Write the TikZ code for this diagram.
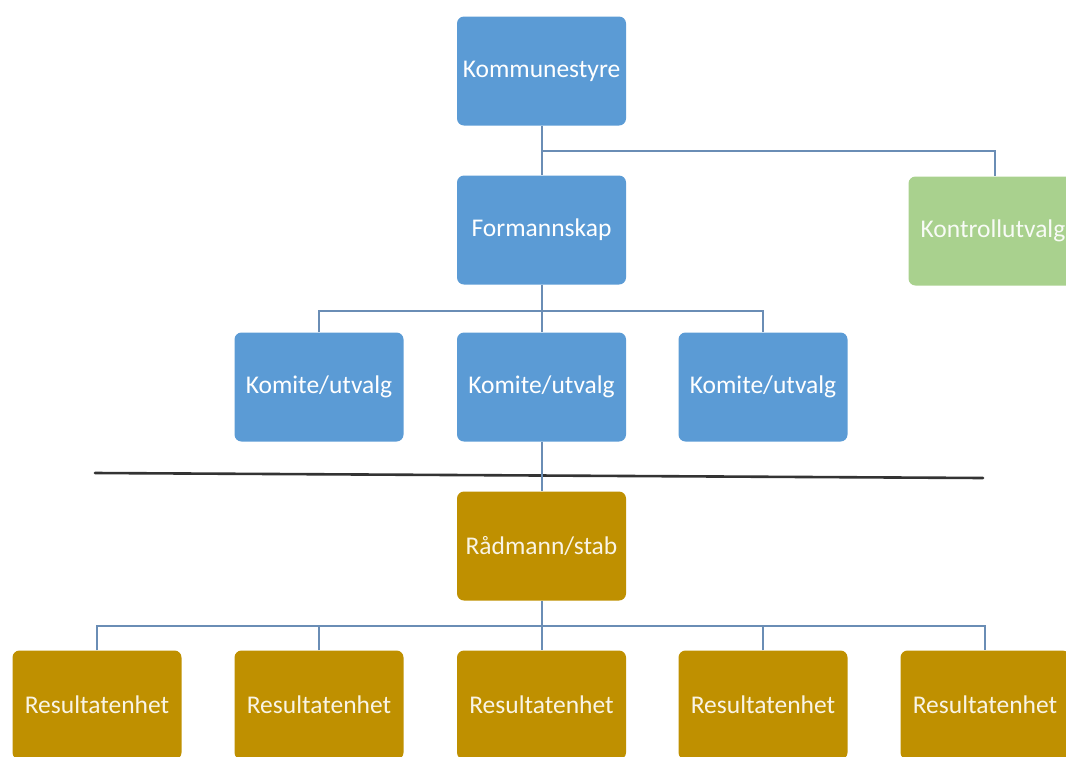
\documentclass[tikz,border=0pt]{standalone}
\usepackage{fontspec}
\setmainfont{Carlito}
\definecolor{boxblue}{HTML}{5B9BD5}
\definecolor{boxgreen}{HTML}{A9D18E}
\definecolor{boxgold}{HTML}{BF9000}
\definecolor{linkcol}{HTML}{6A8DB5}
\tikzset{
  orgbox/.style={rectangle, rounded corners=7pt, minimum width=169pt, minimum height=109pt,
    inner sep=0pt, text=white, font=\fontsize{25.5}{28}\selectfont, draw=none},
  bluebox/.style={orgbox, fill=boxblue},
  greenbox/.style={orgbox, fill=boxgreen, text=white!92!boxgreen},
  goldbox/.style={orgbox, fill=boxgold, text=white!90!boxgold},
  link/.style={draw=linkcol, line width=2pt},
}
\begin{document}
\begin{tikzpicture}[x=1pt,y=-1pt]
\useasboundingbox (0,0) rectangle (1066,756);
\begin{scope}
\clip (0,0) rectangle (1066,756);
% nodes
\node[bluebox] (ks) at (541.5,71) {Kommunestyre};
\node[bluebox] (fs) at (541.5,230) {Formannskap};
\node[greenbox] (ku) at (993,231) {Kontrollutvalg};
\node[bluebox] (k1) at (319,387) {Komite/utvalg};
\node[bluebox] (k2) at (541.5,387) {Komite/utvalg};
\node[bluebox] (k3) at (763,387) {Komite/utvalg};
\node[goldbox] (rs) at (541.5,546) {Rådmann/stab};
\node[goldbox] (r1) at (97,705) {Resultatenhet};
\node[goldbox] (r2) at (319,705) {Resultatenhet};
\node[goldbox] (r3) at (541.5,705) {Resultatenhet};
\node[goldbox] (r4) at (763,705) {Resultatenhet};
\node[goldbox] (r5) at (985,705) {Resultatenhet};
% divider line
\coordinate (dl) at (95,473);
\coordinate (dr) at (983,478);
\draw[line width=2.6pt, black!80, line cap=round] (dl) -- (dr);
% connectors
\draw[link] (ks.south) -- (fs.north);
\draw[link] (ks.south) ++(0,25) -| ([xshift=2pt]ku.north);
\draw[link] (fs.south) -- ++(0,26) coordinate (fb);
\draw[link] (k1.north) |- (fb) -| (k3.north);
\draw[link] (fb) -- (k2.north);
\draw[link] (k2.south) -- (rs.north);
\draw[link] (rs.south) -- ++(0,25) coordinate (rb);
\draw[link] (r1.north) |- (rb) -| (r5.north);
\draw[link] (r2.north) -- (r2.north |- rb);
\draw[link] (r4.north) -- (r4.north |- rb);
\draw[link] (rb) -- (r3.north);
\end{scope}
\end{tikzpicture}
\end{document}
